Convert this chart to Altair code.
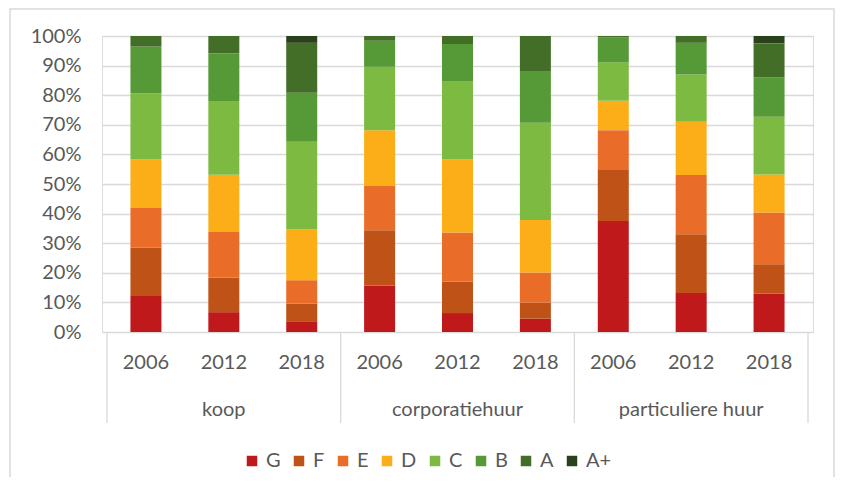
import altair as alt
import pandas as pd

groups = ["koop", "corporatiehuur", "particuliere huur"]
years = ["2006", "2012", "2018"]
labels = ["G", "F", "E", "D", "C", "B", "A", "A+"]
colors = ["#C0191C", "#BF5217", "#E96D28", "#FBAE17", "#7DBA42", "#569A37", "#436E28", "#2A421B"]

# shares (%) per label, bars in order koop 2006/2012/2018, corporatiehuur ..., particuliere huur ...
G = [12.2, 6.7, 3.4, 15.7, 6.4, 4.5, 37.5, 13.2, 13.0]
F = [16.3, 11.7, 6.2, 18.7, 10.7, 5.4, 17.2, 19.8, 9.9]
E = [13.4, 15.4, 7.9, 14.9, 16.5, 10.2, 13.5, 20.0, 17.5]
D = [16.4, 19.3, 17.1, 18.9, 24.7, 17.7, 9.9, 18.0, 12.8]
C = [22.3, 24.9, 29.7, 21.4, 26.5, 32.9, 13.0, 16.0, 19.5]
B = [15.8, 16.1, 16.5, 8.8, 12.5, 17.5, 8.4, 10.7, 13.3]
A = [3.6, 5.9, 16.9, 1.6, 2.7, 11.8, 0.5, 2.3, 11.5]
Aplus = [0.0, 0.0, 2.3, 0.0, 0.0, 0.0, 0.0, 0.0, 2.5]
series = [G, F, E, D, C, B, A, Aplus]

rows = []
for k, (lab, vals) in enumerate(zip(labels, series)):
    for i, v in enumerate(vals):
        rows.append({"idx": i, "label": lab, "k": k, "pct": v})
df = pd.DataFrame(rows)

year_df = pd.DataFrame({"idx": list(range(9)), "year": years * 3})
group_df = pd.DataFrame({"idx": [1, 4, 7], "group": groups})
sep_df = pd.DataFrame({"b": [-0.5, 2.5, 5.5, 8.5]})

FONT = "Lato"
GRAY = "#595959"
LINE = "#d9d9d9"
W, H = 711, 296
PL, PT, PR, PB = 94, 28, 23, 145

xscale = alt.Scale(domain=[-0.5, 8.5], nice=False, zero=False)

bars = alt.Chart(df).mark_bar(size=31).encode(
    x=alt.X("idx:Q", scale=xscale, axis=None),
    y=alt.Y("pct:Q", stack="zero", scale=alt.Scale(domain=[0, 100], nice=False),
            axis=alt.Axis(title=None, values=list(range(0, 101, 10)),
                          labelExpr="datum.value + '%'", domain=False, ticks=False,
                          tickSize=0, labelPadding=21, labelFontSize=20, labelFont=FONT,
                          labelColor=GRAY, gridColor=LINE, gridWidth=1.3)),
    color=alt.Color("label:N", scale=alt.Scale(domain=labels, range=colors),
                    legend=alt.Legend(title=None, orient="none", direction="horizontal",
                                      legendX=140, legendY=415, symbolType="square",
                                      symbolSize=110, symbolStrokeWidth=0,
                                      labelFontSize=20, labelFont=FONT, labelColor=GRAY,
                                      labelOffset=4, columnPadding=8, gridAlign="each")),
    order=alt.Order("k:Q", sort="ascending"),
)

year_text = alt.Chart(year_df).mark_text(font=FONT, fontSize=20, color=GRAY, baseline="middle").encode(
    x=alt.X("idx:Q", scale=xscale),
    y=alt.value(H + 31),
    text="year:N",
)

group_text = alt.Chart(group_df).mark_text(font=FONT, fontSize=20, color=GRAY, baseline="middle").encode(
    x=alt.X("idx:Q", scale=xscale),
    y=alt.value(H + 78),
    text="group:N",
)

seps = alt.Chart(sep_df).mark_rule(color=LINE, strokeWidth=1.3).encode(
    x=alt.X("b:Q", scale=xscale),
    y=alt.value(H),
    y2=alt.value(H + 91),
)

frame = alt.Chart(pd.DataFrame({"a": [0]})).mark_rect(fill=None, stroke=LINE, strokeWidth=1.5).encode(
    x=alt.value(-PL + 2),
    x2=alt.value(W + PR - 2),
    y=alt.value(-PT + 1),
    y2=alt.value(H + PB + 6),
)

chart = alt.layer(frame, bars, seps, year_text, group_text).properties(
    width=W, height=H,
    padding={"left": PL, "top": PT, "right": PR, "bottom": PB},
    autosize=alt.AutoSizeParams(type="none"),
).configure_view(stroke=None).configure(background="white")

chart.save("out.html", embed_options={"renderer": "svg", "actions": False})
